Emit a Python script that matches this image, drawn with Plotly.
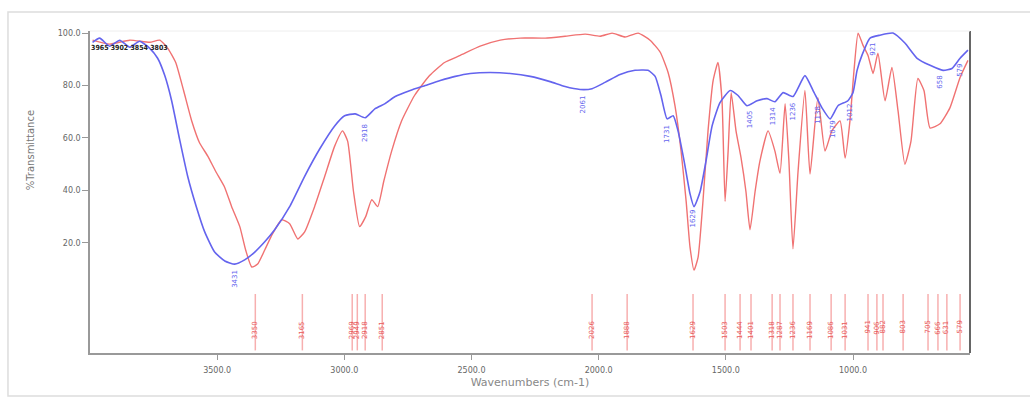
import numpy as np
import plotly.graph_objects as go

# ---- data ----
wn_blue = [3990, 3962, 3923, 3883, 3844, 3805, 3765, 3734, 3706, 3679, 3648, 3616, 3582, 3549, 3510,
           3470, 3431, 3392, 3352, 3313, 3274, 3215, 3156, 3097, 3038, 2999, 2957, 2918, 2879, 2840,
           2800, 2741, 2682, 2623, 2564, 2505, 2427, 2348, 2269, 2191, 2132, 2073, 2026, 1975, 1916,
           1857, 1806, 1778, 1755, 1731, 1707, 1688, 1664, 1641, 1625, 1601, 1578, 1554, 1523, 1483,
           1452, 1417, 1377, 1338, 1307, 1275, 1236, 1189, 1157, 1122, 1090, 1059, 1020, 1000, 984,
           965, 933, 894, 843, 796, 748, 697, 646, 611, 579, 548]
t_blue = [96.5, 98.1, 95.0, 97.3, 94.6, 96.9, 94.2, 90.4, 83.8, 74.2, 59.6, 45.4, 33.8, 24.2, 16.5,
          13.1, 11.9, 13.5, 16.5, 20.4, 25.0, 33.8, 45.4, 55.8, 64.6, 68.5, 69.2, 67.7, 71.2, 73.1,
          75.8, 78.1, 80.0, 81.9, 83.5, 84.6, 85.0, 84.6, 83.5, 81.5, 79.6, 78.5, 78.8, 81.2, 84.2,
          85.8, 85.8, 83.5, 76.2, 67.3, 68.5, 62.7, 51.2, 38.8, 33.8, 39.6, 51.2, 64.6, 73.5, 78.1,
          76.2, 72.3, 74.2, 75.0, 73.8, 77.3, 75.8, 83.8, 78.1, 71.5, 67.3, 72.3, 74.2, 77.3, 85.8,
          91.5, 98.1, 99.2, 100.0, 96.2, 90.4, 87.7, 85.8, 86.5, 90.4, 93.5]

wn_red = [3990, 3923, 3844, 3765, 3726, 3694, 3663, 3632, 3600, 3569, 3537, 3506, 3472, 3443, 3411,
          3388, 3364, 3341, 3313, 3282, 3246, 3215, 3183, 3156, 3117, 3077, 3038, 3007, 2987, 2964,
          2940, 2916, 2892, 2869, 2845, 2814, 2775, 2724, 2665, 2606, 2544, 2466, 2387, 2309, 2210,
          2132, 2053, 1994, 1947, 1896, 1845, 1798, 1758, 1727, 1700, 1676, 1656, 1641, 1625, 1609,
          1590, 1570, 1550, 1531, 1515, 1503, 1491, 1479, 1460, 1440, 1421, 1405, 1385, 1366, 1334,
          1307, 1287, 1267, 1252, 1236, 1216, 1189, 1169, 1138, 1110, 1083, 1051, 1031, 1012, 996,
          980, 961, 941, 921, 902, 874, 847, 823, 796, 772, 745, 721, 697, 658, 619, 579, 548]
t_red = [97.3, 95.8, 97.3, 96.5, 97.3, 94.2, 88.8, 78.1, 66.5, 58.1, 53.1, 47.3, 41.5, 33.8, 26.2,
         17.3, 10.8, 11.9, 17.3, 23.5, 28.8, 27.3, 21.5, 24.2, 33.8, 45.4, 56.9, 62.7, 58.8, 39.6,
         26.2, 30.0, 36.5, 33.8, 43.5, 55.0, 66.5, 76.2, 83.8, 88.8, 91.5, 95.0, 97.3, 98.1, 98.1,
         98.8, 99.6, 98.8, 100.0, 98.5, 100.0, 97.3, 92.7, 85.0, 72.3, 55.0, 35.8, 18.5, 9.6, 14.6,
         35.8, 62.7, 81.9, 88.8, 74.2, 35.8, 55.0, 77.3, 62.7, 52.3, 39.6, 25.0, 39.6, 51.2, 62.7,
         55.0, 46.5, 73.1, 51.2, 17.7, 47.3, 78.1, 46.2, 75.4, 55.0, 62.7, 66.5, 52.3, 66.5, 85.8,
         100.0, 95.4, 91.5, 84.6, 92.3, 74.2, 86.9, 70.4, 50.0, 58.8, 82.7, 78.1, 63.8, 65.4, 71.5, 83.1, 89.6]

blue_peaks = [3431, 2918, 2061, 1731, 1629, 1405, 1314, 1236, 1138, 1079, 1012, 921, 658, 579]
red_sticks = [3350, 3165, 2969, 2949, 2918, 2851, 2026, 1888, 1629, 1503, 1444, 1401, 1318, 1287,
              1236, 1169, 1086, 1031, 941, 906, 882, 803, 705, 666, 631, 579]

x_ticks = [3500, 3000, 2500, 2000, 1500, 1000]
y_ticks = [20, 40, 60, 80, 100]

BLUE = "#6464ee"
RED = "#f07272"

fig = go.Figure()

sx, sy = [], []
for w in red_sticks:
    sx += [w, w, None]
    sy += [0.5, -21, None]
fig.add_trace(go.Scatter(x=sx, y=sy, mode="lines", line=dict(color="rgba(240,110,110,0.55)", width=1.5),
                         hoverinfo="skip", showlegend=False))

fig.add_trace(go.Scatter(x=wn_red, y=t_red, mode="lines", line=dict(color=RED, width=1.4, shape="spline", smoothing=0.5),
                         name="red", showlegend=False))
fig.add_trace(go.Scatter(x=wn_blue, y=t_blue, mode="lines", line=dict(color=BLUE, width=1.6, shape="spline", smoothing=0.5),
                         name="blue", showlegend=False))

ann = []
wb = np.array(wn_blue[::-1]); tb = np.array(t_blue[::-1])
for w in blue_peaks:
    yv = float(np.interp(w, wb, tb))
    ann.append(dict(x=w, y=yv, xref="x", yref="y", text=str(w), textangle=-90, showarrow=False,
                    yanchor="top", yshift=-4, font=dict(size=7, color=BLUE, family="DejaVu Sans")))
for w in red_sticks:
    ann.append(dict(x=w, y=-9, xref="x", yref="y", text=str(w), textangle=-90, showarrow=False,
                    yanchor="top", font=dict(size=7, color="#e85a5a", family="DejaVu Sans")))
ann.append(dict(x=3845, y=94.5, xref="x", yref="y", text="<b>3965 3902 3854 3803</b>", showarrow=False,
                font=dict(size=7, color="#222222", family="DejaVu Sans Condensed")))
ann.append(dict(x=-0.068, y=0.63, xref="paper", yref="paper", xanchor="center", yanchor="middle",
                text="%Transmittance", showarrow=False, textangle=-90,
                font=dict(size=10, color="#777777", family="DejaVu Sans")))

fig.update_layout(
    width=1030, height=399,
    margin=dict(l=90, r=60, t=31, b=46),
    paper_bgcolor="white", plot_bgcolor="white",
    font=dict(family="DejaVu Sans", size=8, color="#666666"),
    annotations=ann,
    xaxis=dict(range=[4000, 540], tickvals=x_ticks, ticktext=[f"{v:.1f}" for v in x_ticks],
               showgrid=False, zeroline=False, showline=True, linecolor="#999999", linewidth=1.5,
               ticks="outside", ticklen=5, tickcolor="#999999", ticklabelstandoff=4,
               title=dict(text="Wavenumbers (cm-1)", font=dict(size=11, color="#888888"), standoff=4)),
    yaxis=dict(range=[-22, 100.8], tickvals=y_ticks, ticktext=[f"{v:.1f}" for v in y_ticks],
               showgrid=False, zeroline=False, showline=True, linecolor="#999999", linewidth=1.5,
               ticks="outside", ticklen=6, tickcolor="#999999"),
    shapes=[
        dict(type="line", xref="paper", yref="paper", x0=1, x1=1, y0=0, y1=1,
             line=dict(color="#666666", width=2)),
        dict(type="line", xref="paper", yref="paper", x0=0, x1=1, y0=1, y1=1,
             line=dict(color="#eeeeee", width=1)),
        dict(type="rect", xref="paper", yref="paper", x0=-0.0932, x1=1.2, y0=-0.1335, y1=1.059,
             line=dict(color="#dddddd", width=1.5)),
    ],
)

fig.write_html("out.html", config={"displayModeBar": False},
               post_script="document.body.style.margin='0px';")
